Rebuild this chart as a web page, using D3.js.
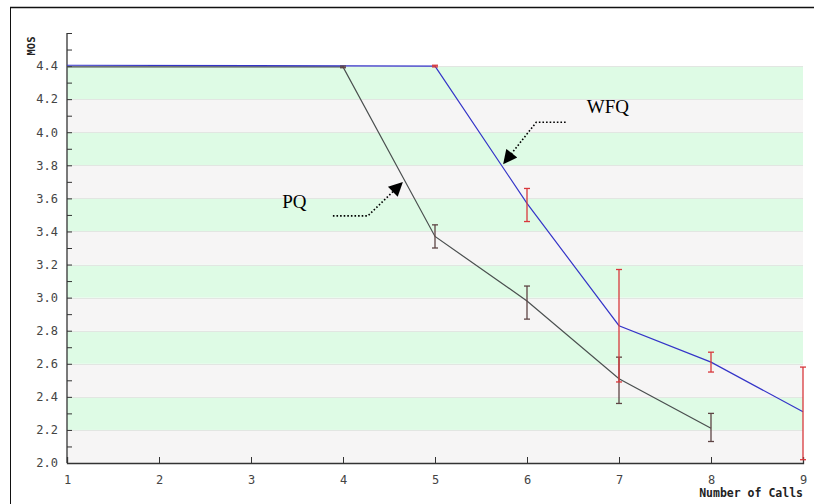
<!DOCTYPE html>
<html>
<head>
<meta charset="utf-8">
<script src="https://cdn.jsdelivr.net/npm/d3@7"></script>
<style>
  body { margin: 0; background: #fff; }
  svg { display: block; }
</style>
</head>
<body>
<div id="chart"></div>
<script>
let w = 814;
let h = 504;

// data
let calls = [1, 2, 3, 4, 5, 6, 7, 8, 9];
let yTicks = [2.0, 2.2, 2.4, 2.6, 2.8, 3.0, 3.2, 3.4, 3.6, 3.8, 4.0, 4.2, 4.4];

let pqX    = [1, 4, 5, 6, 7, 8];
let pqMos  = [4.395, 4.395, 3.37, 2.98, 2.51, 2.21];
let pqLow  = [4.395, 4.39, 3.30, 2.87, 2.36, 2.13];
let pqHigh = [4.395, 4.40, 3.44, 3.07, 2.64, 2.30];

let wfqX    = [1, 5, 6, 7, 8, 9];
let wfqMos  = [4.405, 4.40, 3.57, 2.83, 2.61, 2.31];
let wfqLow  = [4.405, 4.395, 3.46, 2.49, 2.55, 2.02];
let wfqHigh = [4.405, 4.405, 3.66, 3.17, 2.67, 2.58];

// annotations in data units: label pos, then arrow path
let notes = [
  {name: "PQ",  tx: 3.34, ty: 3.54, path: [[3.89, 3.494], [4.27, 3.494], [4.64, 3.693]]},
  {name: "WFQ", tx: 6.65, ty: 4.114, path: [[6.42, 4.06], [6.10, 4.06], [5.75, 3.813]]}
];

let margin = {left: 67, right: 11, top: 33, bottom: 41};

let svg = d3.select("#chart").append("svg")
    .attr("width", w)
    .attr("height", h);

let x = d3.scaleLinear().domain([1, 9]).range([margin.left, w - margin.right]);
let y = d3.scaleLinear().domain([2.0, 4.6]).range([h - margin.bottom, margin.top]);

// outer frame
svg.append("line").attr("x1", 10).attr("x2", w).attr("y1", 7.5).attr("y2", 7.5)
    .attr("stroke", "#111").attr("stroke-width", 1.5);
svg.append("line").attr("x1", 10.5).attr("x2", 10.5).attr("y1", 7).attr("y2", h)
    .attr("stroke", "#111").attr("stroke-width", 1);

// striped bands
let bands = d3.range(yTicks.length - 1);
svg.selectAll(".band").data(bands).enter()
  .append("rect")
    .attr("class", "band")
    .attr("x", x(1))
    .attr("width", x(9) - x(1))
    .attr("y", function(i){ return y(yTicks[i + 1]); })
    .attr("height", function(i){ return y(yTicks[i]) - y(yTicks[i + 1]); })
    .attr("fill", function(i){ return (yTicks.length - 2 - i) % 2 == 0 ? "#defbe5" : "#f6f5f5"; });

svg.selectAll(".grid").data(yTicks).enter()
  .append("line")
    .attr("x1", x(1)).attr("x2", x(9))
    .attr("y1", function(d){ return Math.round(y(d)) + 0.5; })
    .attr("y2", function(d){ return Math.round(y(d)) + 0.5; })
    .attr("stroke", "#e2e6e2");

// axes
let xAxis = d3.axisBottom(x).tickValues(calls).tickSize(-6).tickPadding(12).tickFormat(d3.format("d"));
let yAxis = d3.axisLeft(y).tickValues(d3.range(2.0, 4.65, 0.1)).tickSize(-5).tickPadding(9)
    .tickFormat(function(d){
      let r = Math.round(d * 10);
      return (r % 2 == 0 && r <= 44) ? d3.format(".1f")(d) : "";
    });

let gx = svg.append("g").attr("transform", "translate(0," + y(2.0) + ")").call(xAxis);
let gy = svg.append("g").attr("transform", "translate(" + x(1) + ",0)").call(yAxis);

[gx, gy].forEach(function(g){
  g.select(".domain").attr("stroke", "#333").attr("stroke-width", 1.3);
  g.selectAll(".tick line").attr("stroke", "#333");
  g.selectAll("text").attr("fill", "#444")
    .style("font-family", "DejaVu Sans Mono, monospace").style("font-size", "12px");
});
gy.select(".domain").attr("d", "M0," + y(4.6) + "V" + y(2.0));

svg.append("text")
    .attr("x", x(9))
    .attr("y", 497)
    .attr("text-anchor", "end")
    .style("font-family", "DejaVu Sans Mono, monospace")
    .style("font-size", "11.5px")
    .style("font-weight", "bold")
    .attr("fill", "#222")
    .text("Number of Calls");

svg.append("text")
    .attr("transform", "translate(35,46) rotate(-90)")
    .attr("text-anchor", "middle")
    .style("font-family", "DejaVu Sans Mono, monospace")
    .style("font-size", "10.5px")
    .style("font-weight", "bold")
    .attr("fill", "#222")
    .text("MOS");

// lines
let line = d3.line().x(function(d){ return x(d[0]); }).y(function(d){ return y(d[1]); });

svg.append("path")
    .datum(d3.zip(pqX, pqMos))
    .attr("d", line)
    .attr("fill", "none")
    .attr("stroke", "#4a4f4f")
    .attr("stroke-width", 1.2);

svg.append("path")
    .datum(d3.zip(wfqX, wfqMos))
    .attr("d", line)
    .attr("fill", "none")
    .attr("stroke", "#3434c8")
    .attr("stroke-width", 1.2);

// error bars
function errorBars(xs, lo, hi, col){
  let g = svg.append("g");
  let data = d3.zip(xs, lo, hi).filter(function(d){ return d[2] - d[1] > 0.001; });
  g.selectAll(".stem").data(data).enter().append("line")
      .attr("x1", function(d){ return x(d[0]); })
      .attr("x2", function(d){ return x(d[0]); })
      .attr("y1", function(d){ return y(d[1]); })
      .attr("y2", function(d){ return y(d[2]); })
      .attr("stroke", col).attr("stroke-width", 1.3);
  g.selectAll(".caplo").data(data).enter().append("line")
      .attr("x1", function(d){ return x(d[0]) - 3; })
      .attr("x2", function(d){ return x(d[0]) + 3; })
      .attr("y1", function(d){ return y(d[1]); })
      .attr("y2", function(d){ return y(d[1]); })
      .attr("stroke", col).attr("stroke-width", 1.3);
  g.selectAll(".caphi").data(data).enter().append("line")
      .attr("x1", function(d){ return x(d[0]) - 3; })
      .attr("x2", function(d){ return x(d[0]) + 3; })
      .attr("y1", function(d){ return y(d[2]); })
      .attr("y2", function(d){ return y(d[2]); })
      .attr("stroke", col).attr("stroke-width", 1.3);
}
errorBars(pqX, pqLow, pqHigh, "#5e4444");
errorBars(wfqX, wfqLow, wfqHigh, "#d8383c");

// annotations
let defs = svg.append("defs");
defs.append("marker")
    .attr("id", "head")
    .attr("viewBox", "0 0 10 10")
    .attr("refX", 9).attr("refY", 5)
    .attr("markerWidth", 16).attr("markerHeight", 14)
    .attr("markerUnits", "userSpaceOnUse")
    .attr("orient", "auto")
  .append("path")
    .attr("d", "M0,0L10,5L0,10Z")
    .attr("fill", "#000");

let noteLine = d3.line().x(function(d){ return x(d[0]); }).y(function(d){ return y(d[1]); });

notes.forEach(function(n){
  svg.append("text")
      .attr("x", x(n.tx))
      .attr("y", y(n.ty))
      .style("font-family", "Liberation Serif, Times New Roman, serif")
      .style("font-size", "19px")
      .attr("fill", "#000")
      .text(n.name);
  svg.append("path")
      .attr("d", noteLine(n.path))
      .attr("fill", "none")
      .attr("stroke", "#000")
      .attr("stroke-width", 1.6)
      .attr("stroke-dasharray", "1.6,2")
      .attr("marker-end", "url(#head)");
});
</script>
</body>
</html>
